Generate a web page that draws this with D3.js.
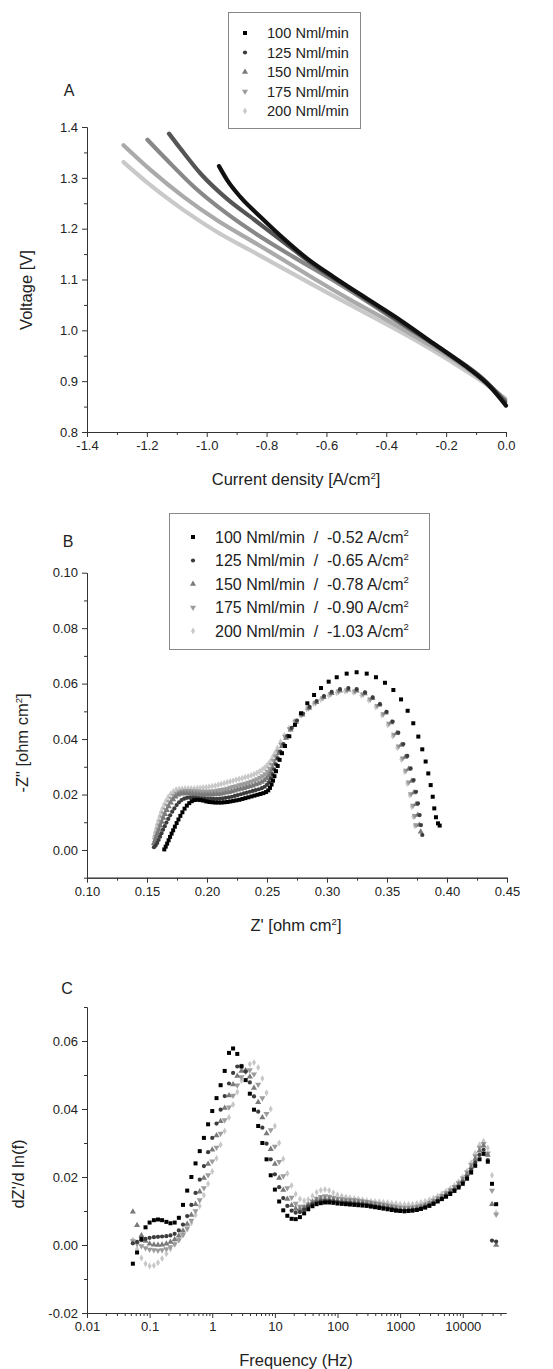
<!DOCTYPE html>
<html>
<head>
<meta charset="utf-8">
<script src="https://cdn.jsdelivr.net/npm/d3@7"></script>
<style>
  body { margin: 0; background: #fff; }
  text { font-family: "Liberation Sans", Arial, sans-serif; fill: #222; }
</style>
</head>
<body>
<svg id="chart" width="553" height="1369"></svg>
<script>
const flows = ["100 Nml/min", "125 Nml/min", "150 Nml/min", "175 Nml/min", "200 Nml/min"];
const eisCurrents = ["-0.52", "-0.65", "-0.78", "-0.90", "-1.03"];

// panel A: [current density, voltage]
const iv100 = [[-0.959,1.323],[-0.931,1.295],[-0.887,1.262],[-0.820,1.223],[-0.742,1.180],[-0.664,1.141],[-0.576,1.105],[-0.464,1.062],[-0.353,1.020],[-0.242,0.974],[-0.131,0.928],[-0.053,0.889],[0.0,0.852]];
const iv125 = [[-1.126,1.387],[-1.087,1.357],[-1.020,1.308],[-0.931,1.258],[-0.842,1.218],[-0.742,1.173],[-0.631,1.124],[-0.520,1.082],[-0.353,1.016],[-0.187,0.952],[-0.076,0.904],[-0.003,0.859]];
const iv150 = [[-1.198,1.375],[-1.131,1.334],[-1.042,1.282],[-0.931,1.229],[-0.820,1.184],[-0.709,1.144],[-0.576,1.098],[-0.464,1.057],[-0.353,1.014],[-0.187,0.950],[-0.076,0.902],[-0.003,0.862]];
const iv175 = [[-1.278,1.364],[-1.187,1.315],[-1.076,1.262],[-0.964,1.216],[-0.853,1.177],[-0.742,1.138],[-0.631,1.098],[-0.520,1.060],[-0.409,1.024],[-0.298,0.986],[-0.187,0.947],[-0.076,0.901],[-0.003,0.864]];
const iv200 = [[-1.278,1.331],[-1.187,1.285],[-1.076,1.236],[-0.964,1.193],[-0.853,1.157],[-0.742,1.121],[-0.631,1.085],[-0.520,1.050],[-0.409,1.015],[-0.298,0.979],[-0.187,0.940],[-0.076,0.898],[-0.003,0.866]];

// panel B: [Z', -Z'']
const nyq100 = [[0.1644,0.0002],[0.1656,0.0012],[0.1668,0.0023],[0.1680,0.0035],[0.1692,0.0047],[0.1705,0.0059],[0.1718,0.0071],[0.1732,0.0084],[0.1747,0.0097],[0.1762,0.0110],[0.1778,0.0123],[0.1795,0.0136],[0.1813,0.0149],[0.1832,0.0160],[0.1852,0.0169],[0.1873,0.0176],[0.1895,0.0180],
  [0.1920,0.0181],[0.1945,0.0180],[0.1970,0.0178],[0.1995,0.0175],[0.2020,0.0173],[0.2045,0.0172],[0.2070,0.0171],[0.2095,0.0171],[0.2120,0.0171],[0.2145,0.0172],[0.2170,0.0173],[0.2195,0.0175],[0.2220,0.0177],[0.2245,0.0179],[0.2270,0.0181],[0.2295,0.0184],[0.2320,0.0187],[0.2345,0.0190],[0.2370,0.0193],[0.2395,0.0196],[0.2420,0.0199],[0.2445,0.0202],[0.2470,0.0205],[0.2492,0.0209],[0.2510,0.0215],[0.2525,0.0224],[0.2538,0.0236],[0.2550,0.0250],[0.2562,0.0266],[0.2575,0.0284],[0.2589,0.0303],
  [0.2605,0.0325],[0.2625,0.0349],[0.2650,0.0375],[0.2686,0.0410],[0.2733,0.0451],[0.2783,0.0493],[0.2836,0.0529],[0.2892,0.0559],[0.2950,0.0584],[0.3014,0.0607],[0.3081,0.0623],[0.3164,0.0636],[0.3247,0.0641],[0.3331,0.0636],[0.3408,0.0623],[0.3483,0.0603],[0.3553,0.0577],[0.3617,0.0543],[0.3672,0.0502],[0.3719,0.0457],[0.3761,0.0409],[0.3794,0.0363],[0.3822,0.0319],[0.3844,0.0276],[0.3864,0.0234],[0.3881,0.0192],[0.3894,0.0150],[0.3908,0.0118],[0.3925,0.0096],[0.3939,0.0088]];
const nyq125 = [[0.1558,0.0010],[0.1572,0.0016],[0.1585,0.0025],[0.1597,0.0036],[0.1609,0.0048],[0.1621,0.0060],[0.1634,0.0073],[0.1648,0.0086],[0.1662,0.0099],[0.1677,0.0112],[0.1693,0.0125],[0.1710,0.0138],[0.1728,0.0150],[0.1747,0.0162],[0.1767,0.0172],[0.1788,0.0180],[0.1810,0.0185],[0.1833,0.0188],[0.1857,0.0189],[0.1882,0.0189],
  [0.1907,0.0188],[0.1932,0.0187],[0.1957,0.0186],[0.1982,0.0185],[0.2007,0.0184],[0.2032,0.0184],[0.2057,0.0184],[0.2082,0.0184],[0.2107,0.0185],[0.2132,0.0186],[0.2157,0.0188],[0.2182,0.0190],[0.2207,0.0192],[0.2232,0.0195],[0.2257,0.0198],[0.2282,0.0201],[0.2307,0.0204],[0.2332,0.0207],[0.2357,0.0210],[0.2382,0.0213],[0.2407,0.0216],[0.2432,0.0219],[0.2457,0.0223],[0.2480,0.0228],[0.2500,0.0235],[0.2517,0.0245],[0.2532,0.0258],[0.2546,0.0273],[0.2560,0.0290],[0.2575,0.0309],[0.2590,0.0330],
  [0.2612,0.0355],[0.2638,0.0382],[0.2670,0.0412],[0.2706,0.0440],[0.2750,0.0467],[0.2800,0.0492],[0.2855,0.0516],[0.2914,0.0537],[0.2975,0.0555],[0.3039,0.0570],[0.3108,0.0580],[0.3178,0.0584],[0.3247,0.0580],[0.3317,0.0568],[0.3381,0.0550],[0.3442,0.0526],[0.3497,0.0498],[0.3547,0.0463],[0.3594,0.0423],[0.3636,0.0382],[0.3669,0.0339],[0.3697,0.0294],[0.3722,0.0252],[0.3742,0.0210],[0.3758,0.0168],[0.3772,0.0126],[0.3783,0.0090],[0.3794,0.0054]];
const nyq150 = [[0.1558,0.0024],[0.1568,0.0035],[0.1578,0.0047],[0.1589,0.0060],[0.1600,0.0073],[0.1612,0.0087],[0.1624,0.0101],[0.1637,0.0115],[0.1651,0.0129],[0.1666,0.0143],[0.1682,0.0157],[0.1699,0.0170],[0.1718,0.0182],[0.1738,0.0192],[0.1760,0.0199],[0.1783,0.0203],[0.1807,0.0204],[0.1832,0.0204],[0.1857,0.0203],[0.1882,0.0202],
  [0.1907,0.0201],[0.1932,0.0200],[0.1957,0.0199],[0.1982,0.0199],[0.2007,0.0199],[0.2032,0.0199],[0.2057,0.0200],[0.2082,0.0201],[0.2107,0.0202],[0.2132,0.0204],[0.2157,0.0206],[0.2182,0.0208],[0.2207,0.0211],[0.2232,0.0214],[0.2257,0.0217],[0.2282,0.0220],[0.2307,0.0223],[0.2332,0.0226],[0.2357,0.0229],[0.2382,0.0232],[0.2407,0.0236],[0.2432,0.0240],[0.2456,0.0245],[0.2478,0.0251],[0.2498,0.0259],[0.2516,0.0269],[0.2533,0.0281],[0.2549,0.0295],[0.2565,0.0311],[0.2581,0.0329],
  [0.2600,0.0349],[0.2625,0.0374],[0.2658,0.0404],[0.2697,0.0434],[0.2742,0.0462],[0.2795,0.0488],[0.2851,0.0512],[0.2911,0.0533],[0.2972,0.0551],[0.3039,0.0565],[0.3108,0.0574],[0.3178,0.0578],[0.3247,0.0574],[0.3314,0.0564],[0.3378,0.0547],[0.3436,0.0524],[0.3489,0.0495],[0.3536,0.0460],[0.3581,0.0421],[0.3619,0.0379],[0.3653,0.0335],[0.3681,0.0292],[0.3706,0.0249],[0.3725,0.0207],[0.3742,0.0165],[0.3756,0.0126],[0.3769,0.0090],[0.3781,0.0066]];
const nyq175 = [[0.1567,0.0036],[0.1575,0.0048],[0.1584,0.0061],[0.1594,0.0075],[0.1604,0.0089],[0.1615,0.0103],[0.1627,0.0118],[0.1640,0.0132],[0.1654,0.0146],[0.1669,0.0160],[0.1686,0.0173],[0.1704,0.0185],[0.1724,0.0196],[0.1746,0.0204],[0.1770,0.0209],[0.1795,0.0212],[0.1820,0.0213],[0.1845,0.0213],[0.1870,0.0213],[0.1895,0.0212],
  [0.1920,0.0212],[0.1945,0.0211],[0.1970,0.0211],[0.1995,0.0211],[0.2020,0.0211],[0.2045,0.0212],[0.2070,0.0213],[0.2095,0.0215],[0.2120,0.0217],[0.2145,0.0219],[0.2170,0.0222],[0.2195,0.0225],[0.2220,0.0228],[0.2245,0.0231],[0.2270,0.0234],[0.2295,0.0237],[0.2320,0.0240],[0.2345,0.0243],[0.2370,0.0247],[0.2395,0.0251],[0.2419,0.0256],[0.2442,0.0261],[0.2464,0.0267],[0.2485,0.0274],[0.2504,0.0283],[0.2522,0.0294],[0.2539,0.0307],[0.2556,0.0322],[0.2573,0.0338],
  [0.2592,0.0356],[0.2618,0.0380],[0.2652,0.0408],[0.2692,0.0436],[0.2738,0.0463],[0.2790,0.0488],[0.2846,0.0511],[0.2905,0.0531],[0.2966,0.0548],[0.3031,0.0563],[0.3097,0.0572],[0.3167,0.0576],[0.3233,0.0572],[0.3300,0.0562],[0.3361,0.0544],[0.3419,0.0520],[0.3469,0.0490],[0.3517,0.0456],[0.3558,0.0416],[0.3597,0.0374],[0.3631,0.0331],[0.3658,0.0287],[0.3681,0.0244],[0.3700,0.0202],[0.3717,0.0160],[0.3731,0.0123],[0.3742,0.0090]];
const nyq200 = [[0.1558,0.0048],[0.1565,0.0061],[0.1573,0.0075],[0.1582,0.0090],[0.1592,0.0105],[0.1603,0.0120],[0.1615,0.0135],[0.1628,0.0150],[0.1643,0.0164],[0.1659,0.0178],[0.1677,0.0191],[0.1697,0.0202],[0.1719,0.0211],[0.1743,0.0217],[0.1768,0.0220],[0.1793,0.0221],[0.1818,0.0222],[0.1843,0.0222],[0.1868,0.0222],[0.1893,0.0222],
  [0.1918,0.0223],[0.1943,0.0224],[0.1968,0.0225],[0.1993,0.0226],[0.2018,0.0228],[0.2043,0.0230],[0.2068,0.0232],[0.2093,0.0235],[0.2118,0.0238],[0.2143,0.0241],[0.2168,0.0244],[0.2193,0.0247],[0.2218,0.0250],[0.2243,0.0253],[0.2268,0.0256],[0.2293,0.0259],[0.2318,0.0262],[0.2343,0.0265],[0.2368,0.0269],[0.2392,0.0273],[0.2415,0.0278],[0.2437,0.0283],[0.2458,0.0289],[0.2478,0.0296],[0.2497,0.0304],[0.2515,0.0313],[0.2533,0.0324],[0.2550,0.0337],[0.2567,0.0351],
  [0.2587,0.0368],[0.2613,0.0390],[0.2645,0.0414],[0.2683,0.0439],[0.2727,0.0464],[0.2777,0.0487],[0.2830,0.0508],[0.2888,0.0527],[0.2948,0.0543],[0.3014,0.0557],[0.3081,0.0567],[0.3150,0.0572],[0.3219,0.0569],[0.3286,0.0558],[0.3347,0.0540],[0.3406,0.0516],[0.3458,0.0486],[0.3506,0.0451],[0.3547,0.0411],[0.3586,0.0369],[0.3619,0.0326],[0.3647,0.0282],[0.3669,0.0240],[0.3689,0.0198],[0.3706,0.0156],[0.3719,0.0120],[0.3731,0.0087]];

// panel C: frequencies (Hz) and dZ'/d ln(f) per flow
const freqHz = [0.054,0.063,0.074,0.086,0.1,0.117,0.136,0.158,0.185,0.215,0.251,0.293,0.341,0.398,0.464,0.541,0.631,0.736,0.858,
  1,1.17,1.36,1.58,1.85,2.15,2.51,2.93,3.41,3.98,4.64,5.41,6.31,7.36,8.58,
  10,11.7,13.6,15.8,18.5,21.5,25.1,29.3,34.1,39.8,46.4,54.1,63.1,73.6,85.8,
  100,117,136,158,185,215,251,293,341,398,464,541,631,736,858,
  1000,1170,1360,1580,1850,2150,2510,2930,3410,3980,4640,5410,6310,7360,8580,
  10000,11700,13600,15800,18500,21500,25100,29300,34100];
const drt100 = [-0.0055,-0.0022,0.0018,0.0052,0.0066,0.0073,0.0075,0.0073,0.0068,0.0064,0.0066,0.0080,0.0118,0.0160,0.0200,0.0240,0.0276,0.0315,0.0355,
  0.0394,0.0432,0.0470,0.0512,0.0565,0.0578,0.0562,0.0525,0.0485,0.0445,0.0398,0.0350,0.0300,0.0252,0.0205,
  0.0163,0.0128,0.0102,0.0086,0.0077,0.0076,0.0082,0.0093,0.0105,0.0114,0.0120,0.0123,0.0125,0.0125,0.0124,
  0.0122,0.0121,0.0120,0.0119,0.0118,0.0117,0.0116,0.0115,0.0113,0.0111,0.0109,0.0107,0.0105,0.0103,0.0101,
  0.0100,0.0099,0.0100,0.0101,0.0103,0.0106,0.0110,0.0115,0.0121,0.0128,0.0135,0.0142,0.0150,0.0159,0.0169,
  0.0180,0.0195,0.0213,0.0233,0.0252,0.0268,0.0245,0.0180,0.0120];
const drt125 = [0.0005,0.0009,0.0014,0.0018,0.0021,0.0023,0.0024,0.0025,0.0026,0.0028,0.0033,0.0043,0.0060,0.0085,0.0118,0.0153,0.0192,0.0232,0.0273,
  0.0315,0.0357,0.0398,0.0438,0.0475,0.0506,0.0525,0.0527,0.0510,0.0478,0.0437,0.0392,0.0345,0.0298,0.0252,
  0.0208,0.0170,0.0138,0.0115,0.0101,0.0095,0.0097,0.0104,0.0113,0.0120,0.0125,0.0128,0.0129,0.0129,0.0128,
  0.0126,0.0125,0.0124,0.0123,0.0122,0.0121,0.0120,0.0118,0.0116,0.0114,0.0112,0.0110,0.0108,0.0106,0.0104,
  0.0102,0.0101,0.0102,0.0103,0.0105,0.0108,0.0112,0.0117,0.0123,0.0130,0.0137,0.0145,0.0153,0.0162,0.0172,
  0.0184,0.0200,0.0220,0.0243,0.0265,0.0280,0.0250,0.0013,0.0010];
const drt150 = [0.0098,0.0058,0.0028,0.0012,0.0004,0.0001,0.0000,0.0001,0.0004,0.0009,0.0016,0.0027,0.0042,0.0062,0.0088,0.0120,0.0157,0.0197,0.0238,
  0.0280,0.0322,0.0364,0.0403,0.0440,0.0472,0.0497,0.0512,0.0513,0.0495,0.0462,0.0420,0.0375,0.0328,0.0282,
  0.0238,0.0197,0.0162,0.0135,0.0117,0.0107,0.0105,0.0110,0.0118,0.0126,0.0132,0.0135,0.0136,0.0135,0.0133,
  0.0131,0.0130,0.0129,0.0128,0.0127,0.0126,0.0125,0.0123,0.0121,0.0119,0.0117,0.0115,0.0113,0.0111,0.0108,
  0.0106,0.0105,0.0105,0.0107,0.0109,0.0112,0.0116,0.0121,0.0127,0.0134,0.0141,0.0149,0.0158,0.0167,0.0178,
  0.0191,0.0208,0.0229,0.0253,0.0277,0.0292,0.0265,0.0120,0.0000];
const drt175 = [0.0012,0.0004,-0.0003,-0.0009,-0.0013,-0.0015,-0.0016,-0.0015,-0.0012,-0.0006,0.0003,0.0015,0.0030,0.0049,0.0072,0.0100,0.0132,0.0168,0.0206,
  0.0246,0.0287,0.0328,0.0368,0.0405,0.0440,0.0470,0.0494,0.0510,0.0515,0.0502,0.0472,0.0432,0.0386,0.0338,
  0.0290,0.0245,0.0203,0.0168,0.0140,0.0122,0.0113,0.0113,0.0120,0.0129,0.0137,0.0142,0.0144,0.0143,0.0140,
  0.0137,0.0135,0.0134,0.0133,0.0132,0.0131,0.0129,0.0127,0.0125,0.0123,0.0121,0.0119,0.0117,0.0115,0.0113,
  0.0111,0.0110,0.0110,0.0111,0.0113,0.0116,0.0120,0.0125,0.0131,0.0138,0.0145,0.0153,0.0162,0.0171,0.0182,
  0.0196,0.0214,0.0236,0.0262,0.0287,0.0298,0.0270,0.0160,0.0090];
const drt200 = [0.0015,-0.0012,-0.0038,-0.0055,-0.0062,-0.0060,-0.0052,-0.0040,-0.0026,-0.0012,0.0002,0.0016,0.0030,0.0046,0.0065,0.0088,0.0115,0.0146,0.0180,
  0.0216,0.0255,0.0295,0.0335,0.0375,0.0413,0.0450,0.0484,0.0513,0.0532,0.0537,0.0522,0.0490,0.0448,0.0400,
  0.0350,0.0300,0.0253,0.0210,0.0175,0.0150,0.0135,0.0130,0.0134,0.0144,0.0155,0.0161,0.0163,0.0160,0.0154,
  0.0148,0.0144,0.0141,0.0139,0.0137,0.0135,0.0133,0.0131,0.0129,0.0128,0.0127,0.0126,0.0125,0.0123,0.0122,
  0.0120,0.0119,0.0119,0.0120,0.0122,0.0125,0.0129,0.0133,0.0138,0.0144,0.0151,0.0158,0.0166,0.0175,0.0186,
  0.0200,0.0218,0.0242,0.0270,0.0295,0.0305,0.0285,0.0205,0.0095];

const ivSeries = [iv100, iv125, iv150, iv175, iv200];
const nyqSeries = [nyq100, nyq125, nyq150, nyq175, nyq200];
const drtSeries = [drt100, drt125, drt150, drt175, drt200];

const lineGreys = ["#111", "#555", "#888", "#aaa", "#c9c9c9"];
const markGreys = ["#000", "#3c3c3c", "#7a7a7a", "#9c9c9c", "#c8c8c8"];
const shapes = [d3.symbolSquare, d3.symbolCircle, d3.symbolTriangle, d3.symbolTriangle, d3.symbolDiamond];
const sizes = [16, 14, 16, 16, 14];

const svg = d3.select("#chart");

function marker(sel, i) {
  sel.attr("d", d3.symbol().type(shapes[i]).size(sizes[i])())
    .attr("fill", markGreys[i]);
}

function place(x, y, i) {
  return `translate(${x},${y})` + (i === 3 ? " rotate(180)" : "");
}

function axes(x, y, xTicks, xMinor, yTicks, yMinor, xFmt, yFmt) {
  const g = svg.append("g");
  const bottom = y.range()[0], left = x.range()[0];
  g.append("g").attr("transform", `translate(0,${bottom})`)
    .call(d3.axisBottom(x).tickValues(xMinor).tickSize(3).tickSizeOuter(0).tickFormat(""));
  g.append("g").attr("transform", `translate(0,${bottom})`)
    .call(d3.axisBottom(x).tickValues(xTicks).tickSize(5).tickSizeOuter(0).tickPadding(4).tickFormat(xFmt));
  g.append("g").attr("transform", `translate(${left},0)`)
    .call(d3.axisLeft(y).tickValues(yMinor).tickSize(3).tickSizeOuter(0).tickFormat(""));
  g.append("g").attr("transform", `translate(${left},0)`)
    .call(d3.axisLeft(y).tickValues(yTicks).tickSize(5).tickSizeOuter(0).tickPadding(4).tickFormat(yFmt));
  g.selectAll("path, line").attr("stroke", "#333");
  g.selectAll("text").attr("font-size", 13).attr("fill", "#222")
    .attr("font-family", "'Liberation Sans', Arial, sans-serif");
}

function label(x, y, str, size, rotate) {
  return svg.append("text").attr("text-anchor", "middle")
    .attr("transform", `translate(${x},${y})` + (rotate ? " rotate(-90)" : ""))
    .attr("font-size", size).text(str);
}

function sup(t, str) {
  t.append("tspan").attr("font-size", 9.5).attr("dy", -6.5).text(str);
  return t;
}

function tail(t, str) {
  t.append("tspan").attr("dy", 6.5).text(str);
}

const fix = n => v => v.toFixed(n);
const range = (a, b, s) => d3.range(Math.round((b - a) / s) + 1).map(k => +(a + k * s).toFixed(4));

// ---------- A ----------
const xA = d3.scaleLinear([-1.4, 0], [87, 506]);
const yA = d3.scaleLinear([0.8, 1.4], [432, 127]);
axes(xA, yA, range(-1.4, 0, 0.2), range(-1.3, -0.1, 0.2), range(0.8, 1.4, 0.1), range(0.85, 1.35, 0.1), fix(1), fix(1));

const lineA = d3.line().x(d => xA(d[0])).y(d => yA(d[1])).curve(d3.curveMonotoneX);
for (let i = ivSeries.length - 1; i >= 0; i--) {
  svg.append("path").datum(ivSeries[i]).attr("d", lineA)
    .attr("fill", "none").attr("stroke", lineGreys[i])
    .attr("stroke-width", 4.2).attr("stroke-linecap", "round");
}

label(69, 96, "A", 16);
label(32, 290, "Voltage [V]", 16.5, true);
tail(sup(label(296, 485, "Current density [A/cm", 16.5), "2"), "]");

svg.append("rect").attr("x", 228.5).attr("y", 12.5).attr("width", 132).attr("height", 116)
  .attr("fill", "#fff").attr("stroke", "#888");
flows.forEach((f, i) => {
  const cy = 33 + i * 19.5;
  svg.append("path").call(marker, i).attr("transform", place(245, cy, i));
  svg.append("text").attr("x", 267).attr("y", cy + 5).attr("font-size", 14.6).text(f);
});

// ---------- B ----------
const xB = d3.scaleLinear([0.10, 0.45], [87, 507]);
const yB = d3.scaleLinear([-0.01, 0.10], [877.7, 572.7]);
axes(xB, yB, range(0.10, 0.45, 0.05), range(0.125, 0.425, 0.05), range(0, 0.10, 0.02), range(-0.01, 0.09, 0.02), fix(2), fix(2));

for (let i = nyqSeries.length - 1; i >= 0; i--) {
  svg.append("g").selectAll("path").data(nyqSeries[i]).join("path")
    .call(marker, i).attr("transform", d => place(xB(d[0]), yB(d[1]), i));
}

label(68, 547, "B", 16);
tail(sup(label(28, 743, "-Z\" [ohm cm", 16.5, true), "2"), "]");
tail(sup(label(296, 931, "Z' [ohm cm", 16.5), "2"), "]");

svg.append("rect").attr("x", 169.5).attr("y", 513.5).attr("width", 260).attr("height", 136)
  .attr("fill", "#fff").attr("stroke", "#888");
flows.forEach((f, i) => {
  const cy = 537 + i * 23.5;
  svg.append("path").call(marker, i).attr("transform", place(193, cy, i));
  const t = svg.append("text").attr("x", 215).attr("y", cy + 5.5).attr("font-size", 16)
    .attr("xml:space", "preserve").style("white-space", "pre");
  t.text(`${f}  /  ${eisCurrents[i]} A/cm`);
  sup(t, "2");
});

// ---------- C ----------
const xC = d3.scaleLog([0.01, 49000], [87, 506]);
const yC = d3.scaleLinear([-0.02, 0.07], [1313, 1007]);
const decades = [0.01, 0.1, 1, 10, 100, 1000, 10000];
const minorC = xC.ticks().filter(v => !decades.includes(v) && v <= 49000);
axes(xC, yC, decades, minorC, range(-0.02, 0.06, 0.02), range(-0.01, 0.07, 0.02),
  v => v < 1 ? String(v) : d3.format("d")(v), fix(2));

for (let i = drtSeries.length - 1; i >= 0; i--) {
  svg.append("g").selectAll("path").data(drtSeries[i]).join("path")
    .call(marker, i).attr("transform", (d, k) => place(xC(freqHz[k]), yC(d), i));
}

label(67, 994, "C", 16);
label(24, 1174, "dZ'/d ln(f)", 16.5, true);
label(296, 1366, "Frequency (Hz)", 16.5);
</script>
</body>
</html>
